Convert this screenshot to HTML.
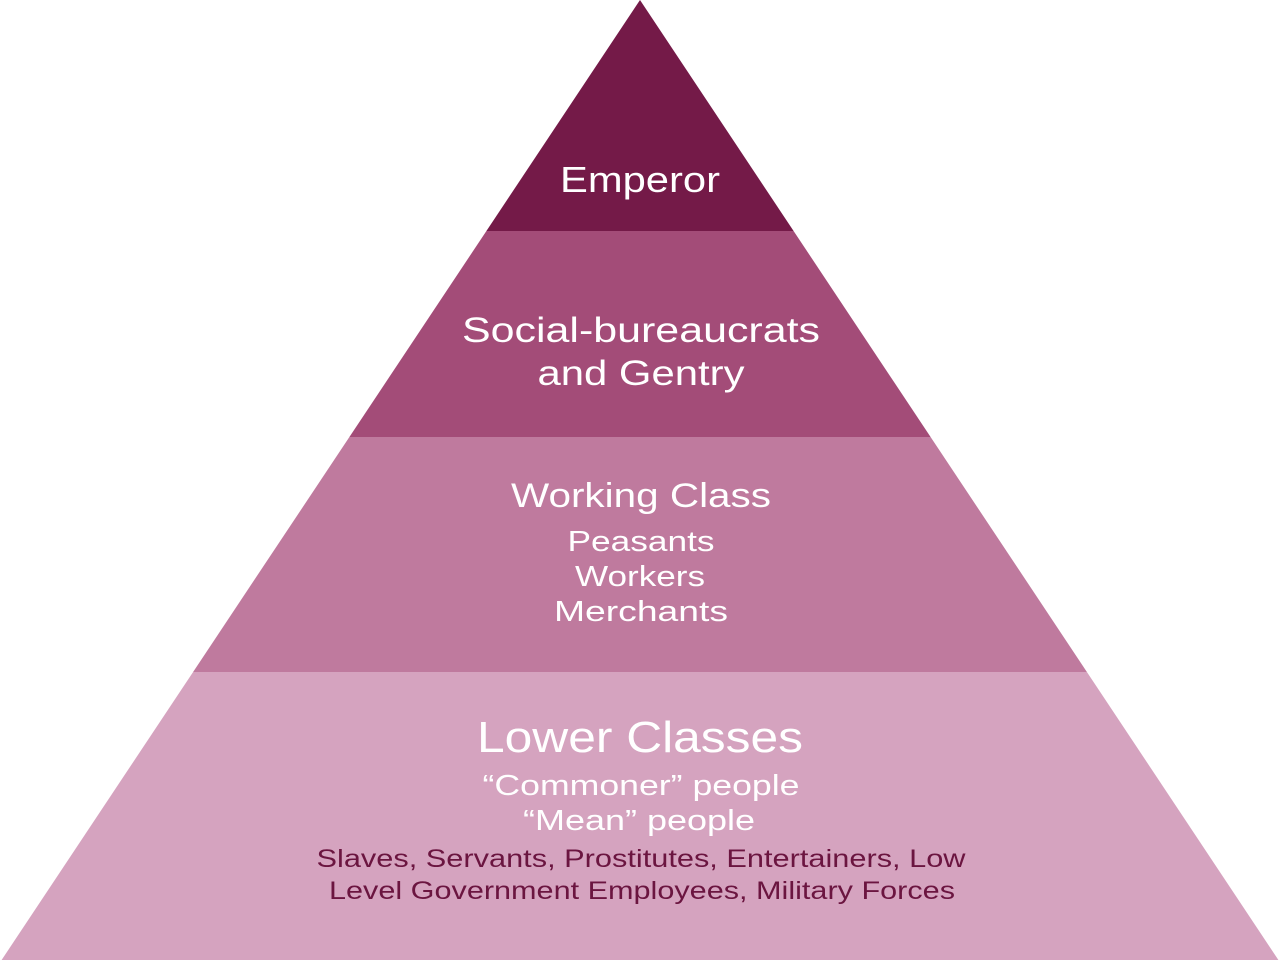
<!DOCTYPE html>
<html><head><meta charset="utf-8"><style>
html,body{margin:0;padding:0;background:#fff;width:1280px;height:960px;overflow:hidden}
</style></head><body>
<svg width="1280" height="960" viewBox="0 0 1280 960" xmlns="http://www.w3.org/2000/svg" font-family="Liberation Sans, sans-serif" text-anchor="middle">
<polygon points="640,0 793.6,231 486.4,231" fill="#741a48"/>
<polygon points="486.4,231 793.6,231 930.6,437 349.4,437" fill="#a34c78"/>
<polygon points="349.4,437 930.6,437 1086.9,672 193.1,672" fill="#bf7a9e"/>
<polygon points="193.1,672 1086.9,672 1278.4,960 1.6,960" fill="#d5a3bf"/>
<g fill="#fff" lengthAdjust="spacingAndGlyphs">
<text x="640" y="192" font-size="36" textLength="160" lengthAdjust="spacingAndGlyphs">Emperor</text>
<text x="641" y="342" font-size="35" textLength="358" lengthAdjust="spacingAndGlyphs">Social-bureaucrats</text>
<text x="641" y="385" font-size="35" textLength="207" lengthAdjust="spacingAndGlyphs">and Gentry</text>
<text x="641" y="507" font-size="34" textLength="260" lengthAdjust="spacingAndGlyphs">Working Class</text>
<text x="641" y="551" font-size="29" textLength="147" lengthAdjust="spacingAndGlyphs">Peasants</text>
<text x="640" y="586" font-size="29" textLength="130" lengthAdjust="spacingAndGlyphs">Workers</text>
<text x="641" y="621" font-size="29" textLength="174" lengthAdjust="spacingAndGlyphs">Merchants</text>
<text x="640" y="752" font-size="44" textLength="326" lengthAdjust="spacingAndGlyphs">Lower Classes</text>
<text x="641" y="795" font-size="29" textLength="317" lengthAdjust="spacingAndGlyphs">“Commoner” people</text>
<text x="639" y="830" font-size="29" textLength="232" lengthAdjust="spacingAndGlyphs">“Mean” people</text>
</g>
<g fill="#6b1540" font-size="25">
<text x="641" y="867" textLength="649" lengthAdjust="spacingAndGlyphs">Slaves, Servants, Prostitutes, Entertainers, Low</text>
<text x="642" y="899" textLength="626" lengthAdjust="spacingAndGlyphs">Level Government Employees, Military Forces</text>
</g>
</svg>
</body></html>
